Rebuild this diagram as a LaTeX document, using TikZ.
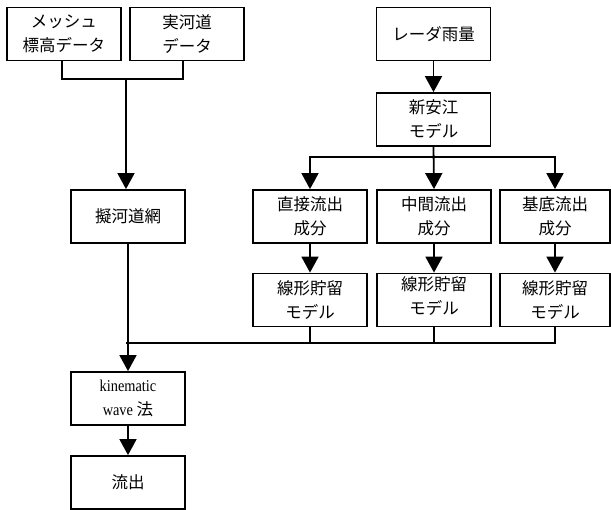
\documentclass[tikz,border=0pt]{standalone}
\usepackage{fontspec}
\setmainfont{Noto Sans CJK JP}
\newfontfamily\lat[FakeStretch=0.87]{Liberation Serif}
\usetikzlibrary{arrows.meta}
\begin{document}
\begin{tikzpicture}[x=1pt,y=-1pt,
  box/.style={draw,line width=1.8pt,minimum width=114pt,minimum height=53pt,inner sep=0pt,align=center,font=\fontsize{16.5}{24}\selectfont},
  txt/.style={inner sep=0pt,align=center,font=\fontsize{16.5}{24}\selectfont},
  conn/.style={line width=1.8pt},
  arr/.style={conn,-{Triangle[width=17pt,length=16pt]}}]
\useasboundingbox (0,0) rectangle (611,510);
% left column
\node[box] (mesh) at (64,34) {メッシュ\\標高データ};
\node[box] (jitsu) at (187,34) {実河道\\データ};
\node[box] (giji) at (128,216.5) {擬河道網};
\node[box] (kine) at (128,398.5) {{\lat kinematic}\\{\lat wave} 法};
\node[box] (ryu) at (128,482.5) {流出};
% right part
\node[box] (radar) at (433.5,34) {レーダ雨量};
\node[box] (shin) at (433.5,119.5) {新安江\\モデル};
\node[box] (c1) at (310,216.5) {直接流出\\成分};
\node[box] (c2) at (434,216.5) {中間流出\\成分};
\node[box,minimum width=110pt] (c3) at (555,216.5) {基底流出\\成分};
\node[box] (l1) at (310,300) {線形貯留\\モデル};
\node[box] (l2) at (434,300) {};
\node[txt] (l2t) at (434,296) {線形貯留\\モデル};
\node[box,minimum width=110pt] (l3) at (555,300) {線形貯留\\モデル};
% junctions
\coordinate (j1) at (126,79);
\coordinate (j2) at (432,157);
\coordinate (j3) at (126,343);
% connectors
\draw[conn] ([xshift=-2pt]mesh.south) |- (j1) -| ([xshift=-4pt]jitsu.south);
\draw[arr] (j1) -- (j1 |- giji.north);
\draw[arr] (radar.south) -- (shin.north);
\draw[arr] (shin.south) -- (c2.north);
\draw[arr] (j2) -| (c1.north);
\draw[arr] (j2) -| (c3.north);
\draw[arr] (c1) -- (l1);
\draw[arr] (c2) -- (l2);
\draw[arr] (c3) -- (l3);
\draw[conn] (l3.south) |- (j3);
\draw[conn] (l1.south) -- (l1.south |- j3);
\draw[conn] (l2.south) -- (l2.south |- j3);
\draw[conn] (giji.south) -- (giji.south |- j3);
\draw[arr] (giji.south |- j3) -- (kine.north);
\draw[arr] (kine) -- (ryu);
\end{tikzpicture}
\end{document}
